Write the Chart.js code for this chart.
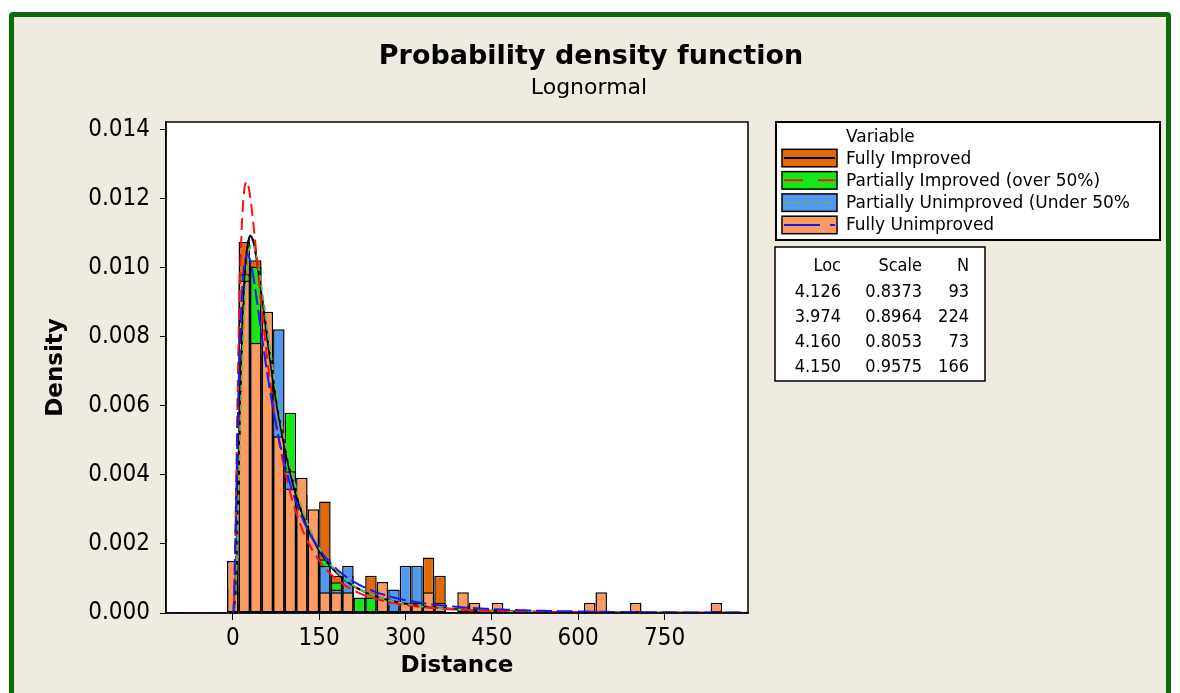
<!DOCTYPE html>
<html>
<head>
<meta charset="utf-8">
<script src="https://cdn.jsdelivr.net/npm/chart.js@4.4.1/dist/chart.umd.min.js"></script>
<style>
  html, body { margin: 0; padding: 0; width: 1180px; height: 693px; overflow: hidden; background: #ffffff; }
  #frame { position: absolute; left: 9px; top: 12px; width: 1162px; height: 700px; box-sizing: border-box;
           border: 5px solid #0b6a0b; border-radius: 4px; background: #efebe0; }
  #chart { position: absolute; left: 0; top: 0; }
</style>
</head>
<body>
<div id="frame"></div>
<canvas id="chart" width="1180" height="693"></canvas>
<script>
// Histogram bins (distance, bin width 20)
const binCenters = [0, 20, 40, 60, 80, 100, 120, 140, 160, 180, 200, 220, 240, 260, 280, 300, 320, 340, 360, 380,
  400, 420, 440, 460, 480, 500, 520, 540, 560, 580, 600, 620, 640, 660, 680, 700, 720, 740, 760, 780, 800, 820, 840];

// Density of each group per bin
const fullyImproved = [0, 0.01075, 0.01022, 0.00645, 0.00484, 0.00323, 0.00269, 0.00215, 0.00323, 0.00108,
  0.00108, 0, 0.00108, 0.00054, 0, 0, 0, 0.00161, 0.00108, 0,
  0, 0, 0, 0, 0, 0, 0, 0, 0, 0, 0, 0, 0, 0, 0, 0, 0, 0, 0, 0, 0, 0, 0];
const partiallyImproved = [0.00067, 0.00982, 0.01004, 0.00737, 0.00513, 0.00580, 0.00268, 0.00223, 0.00156, 0.00089,
  0.00089, 0.00045, 0.00045, 0.00045, 0.00022, 0.00022, 0.00022, 0.00045, 0.00022, 0,
  0.00022, 0.00022, 0, 0, 0, 0, 0, 0, 0, 0, 0, 0, 0, 0, 0, 0, 0, 0, 0, 0, 0, 0, 0];
const partiallyUnimproved = [0.00068, 0.00890, 0.00753, 0.00685, 0.00822, 0.00411, 0.00343, 0.00274, 0.00137, 0.00068,
  0.00137, 0, 0, 0.00068, 0.00068, 0.00137, 0.00137, 0, 0, 0,
  0, 0, 0, 0, 0, 0, 0, 0, 0, 0, 0, 0, 0, 0, 0, 0, 0, 0, 0, 0, 0, 0, 0];
const fullyUnimproved = [0.00151, 0.00964, 0.00783, 0.00873, 0.00512, 0.00361, 0.00392, 0.00301, 0.00060, 0.00060,
  0.00060, 0, 0, 0.00090, 0, 0.00030, 0.00030, 0.00060, 0.00030, 0,
  0.00060, 0.00030, 0, 0.00030, 0, 0, 0, 0, 0, 0, 0, 0.00030, 0.00060, 0, 0, 0.00030, 0, 0, 0, 0, 0, 0, 0.00030];

// Group names and fitted lognormal parameters
const groupNames = ['Fully Improved', 'Partially Improved (over 50%)', 'Partially Unimproved (Under 50%', 'Fully Unimproved'];
const fitLoc = [4.126, 3.974, 4.160, 4.150];
const fitScale = [0.8373, 0.8964, 0.8053, 0.9575];
const sampleN = [93, 224, 73, 166];

// Axis ticks
const xTickValues = [0, 150, 300, 450, 600, 750];
const yTickValues = [0, 0.002, 0.004, 0.006, 0.008, 0.010, 0.012, 0.014];

// Styles
const X_MIN = -116, X_MAX = 895, Y_MAX = 0.01423;
const barColors = ['#e2690a', '#16e816', '#5298ec', '#fd9a60'];
const lineColors = ['#000000', '#ff1010', '#62b85a', '#1a1aee'];
const lineDash = [[], [12, 6], [6, 4], [16, 5]];
const legendDash = [[], [19, 15], [5, 5], [36, 10]];
const FONT_COND = '"DejaVu Sans Condensed", "DejaVu Sans", sans-serif';
const FONT = '"DejaVu Sans", sans-serif';

const groupValues = [fullyImproved, partiallyImproved, partiallyUnimproved, fullyUnimproved];

function lognormalPdf(x, loc, scale) {
  if (x <= 0) return 0;
  const z = (Math.log(x) - loc) / scale;
  return Math.exp(-0.5 * z * z) / (x * scale * Math.sqrt(2 * Math.PI));
}

function fittedCurve(i) {
  const pts = [];
  for (let x = X_MIN; x <= X_MAX; x += 1) {
    pts.push({ x: x, y: lognormalPdf(x, fitLoc[i], fitScale[i]) });
  }
  return pts;
}

function barPoints(values) {
  const pts = [];
  values.forEach((v, k) => { if (v > 0) pts.push({ x: binCenters[k], y: v }); });
  return pts;
}

// Draw order: curves on top, then the bar groups (last group in front)
const lineOrder = [3, 1, 2, 0];
const barOrder = [7, 6, 5, 4];

const datasets = [];
for (let i = 0; i < 4; i++) {
  datasets.push({
    type: 'line',
    label: groupNames[i] + ' fit',
    data: fittedCurve(i),
    borderColor: lineColors[i],
    borderWidth: 2,
    borderDash: lineDash[i],
    pointRadius: 0,
    fill: false,
    tension: 0,
    order: lineOrder[i]
  });
}
for (let i = 0; i < 4; i++) {
  datasets.push({
    type: 'bar',
    label: groupNames[i],
    data: barPoints(groupValues[i]),
    backgroundColor: barColors[i],
    borderColor: '#000000',
    borderWidth: 1.5,
    borderSkipped: false,
    inflateAmount: 0,
    grouped: false,
    barPercentage: 1,
    categoryPercentage: 1,
    order: barOrder[i]
  });
}

const decor = {
  id: 'decor',
  beforeDraw(chart) {
    const { ctx, chartArea: a } = chart;
    ctx.save();
    ctx.fillStyle = '#ffffff';
    ctx.fillRect(a.left, a.top, a.right - a.left, a.bottom - a.top);
    ctx.restore();
  },
  afterDraw(chart) {
    const { ctx, chartArea: a } = chart;
    ctx.save();
    // plot frame
    ctx.strokeStyle = '#000';
    ctx.lineWidth = 1.5;
    ctx.strokeRect(a.left, a.top, a.right - a.left, a.bottom - a.top);

    // titles
    ctx.fillStyle = '#000';
    ctx.textAlign = 'center';
    ctx.textBaseline = 'alphabetic';
    ctx.font = 'bold 27px ' + FONT;
    ctx.fillText('Probability density function', 591, 64);
    ctx.font = '22px ' + FONT;
    ctx.fillText('Lognormal', 589, 94);

    // legend box
    ctx.fillStyle = '#fff';
    ctx.fillRect(776, 122, 384, 118);
    ctx.lineWidth = 2;
    ctx.strokeStyle = '#000';
    ctx.strokeRect(776, 122, 384, 118);
    ctx.fillStyle = '#000';
    ctx.textAlign = 'left';
    ctx.font = '17px ' + FONT;
    ctx.fillText('Variable', 846, 142);
    for (let i = 0; i < 4; i++) {
      const top = 149.3 + 22.3 * i;
      ctx.fillStyle = barColors[i];
      ctx.fillRect(782, top, 55, 17.5);
      ctx.lineWidth = 1.5;
      ctx.strokeStyle = '#000';
      ctx.strokeRect(782, top, 55, 17.5);
      ctx.beginPath();
      ctx.setLineDash(legendDash[i]);
      ctx.strokeStyle = lineColors[i];
      ctx.lineWidth = 2;
      ctx.moveTo(784, top + 8.75);
      ctx.lineTo(835, top + 8.75);
      ctx.stroke();
      ctx.setLineDash([]);
      ctx.fillStyle = '#000';
      ctx.fillText(groupNames[i], 846, 163.5 + 22 * i);
    }

    // parameter table
    ctx.fillStyle = '#fff';
    ctx.fillRect(775, 247, 210, 134);
    ctx.lineWidth = 1.5;
    ctx.strokeStyle = '#000';
    ctx.strokeRect(775, 247, 210, 134);
    ctx.fillStyle = '#000';
    ctx.textAlign = 'right';
    ctx.font = '18px ' + FONT_COND;
    const colRight = [841, 922, 969];
    ['Loc', 'Scale', 'N'].forEach((h, k) => ctx.fillText(h, colRight[k], 271));
    for (let i = 0; i < 4; i++) {
      const y = 297 + 25 * i;
      ctx.fillText(fitLoc[i].toFixed(3), colRight[0], y);
      ctx.fillText(fitScale[i].toFixed(4), colRight[1], y);
      ctx.fillText(String(sampleN[i]), colRight[2], y);
    }
    ctx.restore();
  }
};

new Chart(document.getElementById('chart'), {
  type: 'bar',
  data: { datasets: datasets },
  options: {
    responsive: false,
    animation: false,
    events: [],
    layout: { padding: { left: 0, right: 432, top: 122, bottom: 0 } },
    plugins: { legend: { display: false }, tooltip: { enabled: false }, title: { display: false } },
    scales: {
      x: {
        type: 'linear',
        min: X_MIN,
        max: X_MAX,
        offset: false,
        afterBuildTicks: s => { s.ticks = xTickValues.map(v => ({ value: v })); },
        afterFit: s => { s.height = 80; },
        ticks: { color: '#000', font: { family: FONT_COND, size: 24 }, padding: 4, maxRotation: 0, autoSkip: false },
        grid: { offset: false, drawOnChartArea: false, drawTicks: true, tickLength: 7, color: '#000', lineWidth: 1 },
        border: { display: true, color: '#000', width: 1.5 },
        title: { display: true, text: 'Distance', color: '#000', font: { family: FONT, size: 23, weight: 'bold' },
                 padding: { top: 0, bottom: 13 } }
      },
      y: {
        type: 'linear',
        min: 0,
        max: Y_MAX,
        afterBuildTicks: s => { s.ticks = yTickValues.map(v => ({ value: v })); },
        afterFit: s => { s.width = 166; },
        ticks: { color: '#000', font: { family: FONT_COND, size: 24 }, padding: 10,
                 callback: v => Number(v).toFixed(3) },
        grid: { drawOnChartArea: false, drawTicks: true, tickLength: 6, color: '#000', lineWidth: 1 },
        border: { display: true, color: '#000', width: 1.5 },
        title: { display: true, text: 'Density', color: '#000', font: { family: FONT, size: 23, weight: 'bold' },
                 padding: { top: 42, bottom: 0 } }
      }
    }
  },
  plugins: [decor]
});
</script>
</body>
</html>
